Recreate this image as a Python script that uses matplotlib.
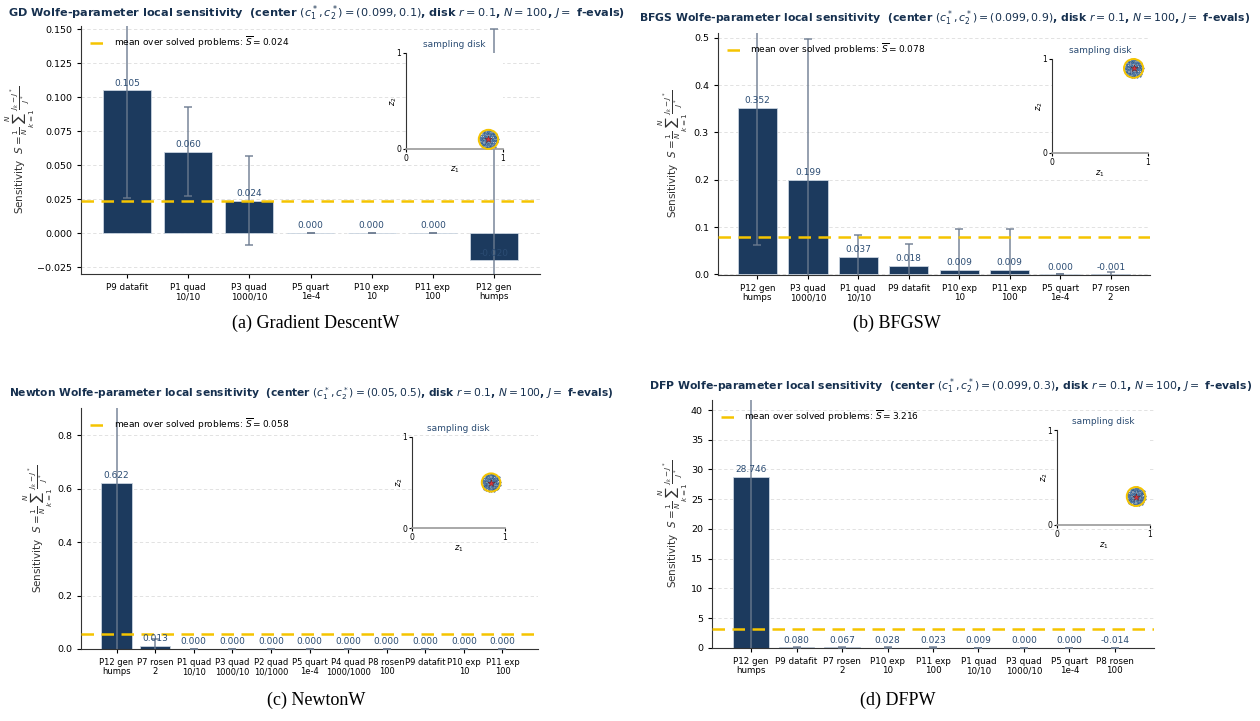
import numpy as np
import matplotlib.pyplot as plt
from matplotlib.patches import Circle
from matplotlib.ticker import MultipleLocator

# Problem labels and mean relative sensitivities per solver
gd_labels = ["P9 datafit", "P1 quad\n10/10", "P3 quad\n1000/10", "P5 quart\n1e-4",
             "P10 exp\n10", "P11 exp\n100", "P12 gen\nhumps"]
gd_vals = [0.105, 0.060, 0.024, 0.000, 0.000, 0.000, -0.020]
gd_err = [0.079, 0.033, 0.033, 0.0, 0.0, 0.0, 0.170]
gd_mean = 0.024
gd_center = (0.85, 0.1)

bfgs_labels = ["P12 gen\nhumps", "P3 quad\n1000/10", "P1 quad\n10/10", "P9 datafit",
               "P10 exp\n10", "P11 exp\n100", "P5 quart\n1e-4", "P7 rosen\n2"]
bfgs_vals = [0.352, 0.199, 0.037, 0.018, 0.009, 0.009, 0.000, -0.001]
bfgs_err = [0.290, 0.299, 0.046, 0.046, 0.087, 0.087, 0.0, 0.006]
bfgs_mean = 0.078
bfgs_center = (0.85, 0.9)

newton_labels = ["P12 gen\nhumps", "P7 rosen\n2", "P1 quad\n10/10", "P3 quad\n1000/10",
                 "P2 quad\n10/1000", "P5 quart\n1e-4", "P4 quad\n1000/1000", "P8 rosen\n100",
                 "P9 datafit", "P10 exp\n10", "P11 exp\n100"]
newton_vals = [0.622, 0.013, 0.000, 0.000, 0.000, 0.000, 0.000, 0.000, 0.000, 0.000, 0.000]
newton_err = [0.750, 0.025, 0.0, 0.0, 0.0, 0.0, 0.0, 0.0, 0.0, 0.0, 0.0]
newton_mean = 0.058
newton_center = (0.85, 0.5)

dfp_labels = ["P12 gen\nhumps", "P9 datafit", "P7 rosen\n2", "P10 exp\n10", "P11 exp\n100",
              "P1 quad\n10/10", "P3 quad\n1000/10", "P5 quart\n1e-4", "P8 rosen\n100"]
dfp_vals = [28.746, 0.080, 0.067, 0.028, 0.023, 0.009, 0.000, 0.000, -0.014]
dfp_err = [31.0, 0.15, 0.12, 0.05, 0.05, 0.02, 0.0, 0.0, 0.03]
dfp_mean = 3.216
dfp_center = (0.85, 0.3)

N_SAMPLES = 100
DISK_R = 0.1

NAVY = "#1c3a5e"
TEXT = "#2b4c73"
TITLE = "#16304f"
GOLD = "#f5c400"
ERR = "#6b7a8f"

W, H = 1260, 721
fig = plt.figure(figsize=(W / 100, H / 100), dpi=100)


def rect(x0, y0, x1, y1):
    # pixel box (top-left origin) -> figure fraction
    return [x0 / W, 1 - y1 / H, (x1 - x0) / W, (y1 - y0) / H]


def draw_panel(box, labels, vals, errs, mean, step, pad, ylab_x, xfs=6.3):
    ax = fig.add_axes(rect(*box))
    x = np.arange(len(vals))
    ax.bar(x, vals, width=0.78, color=NAVY, edgecolor="#c9d4e0", linewidth=0.6, zorder=2)
    ax.errorbar(x, vals, yerr=errs, fmt="none", ecolor=ERR, elinewidth=1.1,
                capsize=3, capthick=1.1, alpha=0.9, zorder=3)
    for xi, v in zip(x, vals):
        ax.annotate(f"{v:.3f}", (xi, v), xytext=(0, 2), textcoords="offset points",
                    ha="center", va="bottom", fontsize=6.5, color=TEXT, zorder=4)
    ax.axhline(mean, color=GOLD, lw=1.8, ls=(0, (5, 3)), zorder=3,
               label=rf"mean over solved problems: $\overline{{S}} = {mean:.3f}$")

    top = 1.45 * max(vals)
    bottom = 1.5 * min(vals) if min(vals) < 0 else 0.0
    ax.set_ylim(bottom, top)
    ax.set_xlim(-pad, len(vals) - 1 + pad)
    ax.yaxis.set_major_locator(MultipleLocator(step))
    ax.set_xticks(x)
    ax.set_xticklabels(labels, fontsize=xfs, linespacing=1.0)
    ax.tick_params(axis="y", labelsize=6.8, length=3)
    ax.tick_params(axis="x", length=3)
    ax.grid(axis="y", ls=(0, (4, 3)), color="#dddddd", lw=0.6, zorder=0)
    ax.set_axisbelow(True)
    for s in ["top", "right"]:
        ax.spines[s].set_visible(False)
    for s in ["left", "bottom"]:
        ax.spines[s].set_color("#333333")
    ax.set_ylabel(r"Sensitivity  $S=\frac{1}{N}\sum_{k=1}^{N}\frac{J_k-J^*}{J^*}$",
                  fontsize=7.5, color="#333333")
    ax.yaxis.set_label_coords(ylab_x, 0.5)
    ax.legend(loc="upper left", frameon=False, fontsize=6.5, handlelength=1.8,
              borderaxespad=0.6)
    return ax


def draw_disk(box, center):
    ins = fig.add_axes(rect(*box))
    ins.set_facecolor("white")
    # quasi-uniform sample layout inside the disk (sunflower lattice)
    k = np.arange(N_SAMPLES) + 0.5
    r = DISK_R * np.sqrt(k / N_SAMPLES)
    th = k * np.pi * (3 - np.sqrt(5))
    ins.scatter(center[0] + r * np.cos(th), center[1] + r * np.sin(th), s=1.5,
                color="#4f7fb3", edgecolor="#1c3a5e", linewidth=0.2, zorder=2, clip_on=False)
    ins.add_patch(Circle(center, DISK_R, fill=False, edgecolor=GOLD, lw=1.4, zorder=3,
                         clip_on=False))
    ins.scatter([center[0]], [center[1]], marker="*", s=28, color="#d9363e",
                edgecolor="#5a1a1a", linewidth=0.3, zorder=4, clip_on=False)
    ins.set_xlim(0, 1)
    ins.set_ylim(0, 1)
    ins.set_xticks([0, 1])
    ins.set_yticks([0, 1])
    ins.tick_params(labelsize=5.5, length=2, pad=1.5)
    ins.set_xlabel(r"$z_1$", fontsize=6, labelpad=1)
    ins.set_ylabel(r"$z_2$", fontsize=6, labelpad=-2)
    ins.set_title("sampling disk", fontsize=6.5, color=TEXT, pad=4)
    for s in ["top", "right"]:
        ins.spines[s].set_visible(False)
    ins.spines["left"].set_color("#333333")
    ins.spines["bottom"].set_color("#999999")
    ins.spines["bottom"].set_linewidth(1.2)


def title_text(x, y, solver, center, size):
    fig.text(x / W, 1 - y / H,
             f"{solver} Wolfe-parameter local sensitivity  (center "
             rf"$(c_1^*, c_2^*) = {center}$, disk $r = 0.1$, $N = 100$, $J = $ f-evals)",
             ha="center", va="center", fontsize=size, fontweight="bold", color=TITLE)


# (a) gradient descent
draw_panel((81, 26, 540, 274), gd_labels, gd_vals, gd_err, gd_mean, 0.025, 0.75, -0.096)
draw_disk((406, 53, 503, 149), gd_center)
title_text(317, 13, "GD", "(0.099, 0.1)", 8.1)

# (b) BFGS
draw_panel((718, 33, 1150, 275), bfgs_labels, bfgs_vals, bfgs_err, bfgs_mean, 0.1, 0.78, -0.065)
draw_disk((1052, 59, 1148, 153), bfgs_center)
title_text(945, 18, "BFGS", "(0.099, 0.9)", 7.85)

# (c) Newton
draw_panel((81, 408, 538, 649), newton_labels, newton_vals, newton_err, newton_mean, 0.2, 0.92,
           -0.057, xfs=6.0)
draw_disk((412, 437, 505, 528), newton_center)
title_text(311, 394, "Newton", "(0.05, 0.5)", 7.7)

# (d) DFP
draw_panel((712, 400, 1154, 648), dfp_labels, dfp_vals, dfp_err, dfp_mean, 5, 0.86, -0.05)
draw_disk((1057, 430, 1150, 525), dfp_center)
title_text(951, 386, "DFP", "(0.099, 0.3)", 7.85)

# sub-figure captions
for cx, cy, cap in [(316, 323, "(a) Gradient DescentW"), (897, 323, "(b) BFGSW"),
                    (316, 700, "(c) NewtonW"), (898, 700, "(d) DFPW")]:
    fig.text(cx / W, 1 - cy / H, cap, ha="center", va="center", fontsize=13,
             family="Liberation Serif")

fig.savefig("out.png", dpi=100)
